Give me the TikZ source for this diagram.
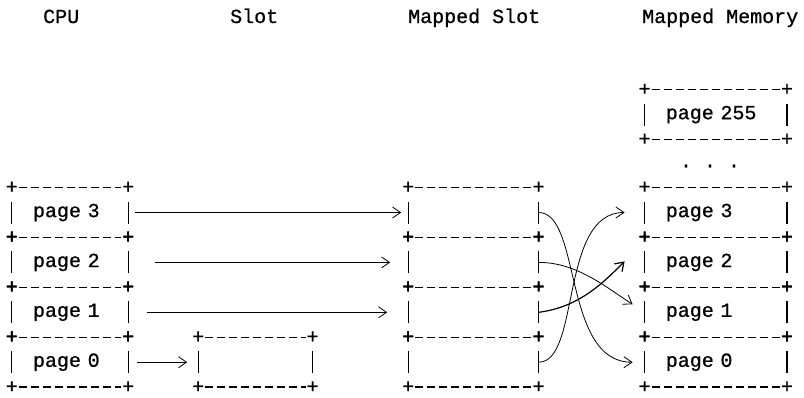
\documentclass[tikz,border=0pt]{standalone}
\usepackage{fontspec}
\newfontfamily\ttpage[FakeBold=0.8]{Liberation Mono}
\usetikzlibrary{arrows.meta,%
                positioning}

% ascii style frame round one cell
\newcommand{\asciiframe}[1]{%
  \draw[dashline] ([xshift=7pt]#1.north west) -- ([xshift=-7pt]#1.north east);
  \draw[dashline] ([xshift=7pt]#1.south west) -- ([xshift=-7pt]#1.south east);
  \draw[barline] ([yshift=-11pt]#1.west) -- ([yshift=11pt]#1.west);
  \draw[barline] ([yshift=-11pt]#1.east) -- ([yshift=11pt]#1.east);
  \foreach \corner in {north west,north east,south west,south east}
    \node[plus] at (#1.\corner) {+};
}

\begin{document}
\begin{tikzpicture}[x=1pt,y=1pt,>={Straight Barb[length=8pt,width=11pt]}]
  \tikzset{node distance = 0pt}
  \tikzset{cell/.style={text width=#1, inner xsep=21pt, inner ysep=0pt,
                        minimum height=49.5pt, align=left,
                        font=\ttpage\fontsize{20pt}{24pt}\selectfont}}
  \tikzset{title/.style={anchor=base west, inner sep=0pt,
                         font=\ttpage\fontsize{20pt}{24pt}\selectfont}}
  \tikzset{plus/.style={inner sep=0pt, font=\ttpage\fontsize{20pt}{24pt}\selectfont}}
  \tikzset{dashline/.style={line width=1.4pt, dash pattern=on 8pt off 4pt}}
  \tikzset{barline/.style={line width=1.2pt}}
  \tikzset{map/.style={->, line width=0.8pt}}
  \useasboundingbox (0,0) rectangle (804,-397);

  \node[title] (tcpu) at (43,-23) {CPU};
  \node[title] (tslot) at (230,-23) {Slot};
  \node[title] (tms) at (408,-23) {Mapped Slot};
  \node[title] (tmem) at (642,-23) {Mapped Memory};

  % CPU
  \node[cell=74pt] (cpu3) at (70,-212.5) {page 3};
  \node[cell=74pt, below=of cpu3] (cpu2) {page 2};
  \node[cell=74pt, below=of cpu2] (cpu1) {page 1};
  \node[cell=74pt, below=of cpu1] (cpu0) {page 0};

  % Slot
  \node[cell=72pt, right=70pt of cpu0] (slot0) {};

  % Mapped Slot
  \node[cell=88pt, right=280pt of cpu3] (ms3) {};
  \node[cell=88pt, below=of ms3] (ms2) {};
  \node[cell=88pt, below=of ms2] (ms1) {};
  \node[cell=88pt, below=of ms1] (ms0) {};

  % Mapped Memory
  \node[cell=100pt, right=106pt of ms3] (mem3) {page 3};
  \node[cell=100pt, below=of mem3] (mem2) {page 2};
  \node[cell=100pt, below=of mem2] (mem1) {page 1};
  \node[cell=100pt, below=of mem1] (mem0) {page 0};
  \node[cell=100pt, above=48pt of mem3] (mem255) {page 255};
  \node[plus] (gap) at (710,-166) {.\ .\ .};

  \foreach \c in {cpu3,cpu2,cpu1,cpu0,slot0,ms3,ms2,ms1,ms0,mem3,mem2,mem1,mem0,mem255}
    \asciiframe{\c};

  \draw[map, shorten <=7pt, shorten >=7pt] (cpu3) -- (ms3);
  \draw[map, shorten <=27pt, shorten >=18pt] (cpu2) -- (ms2);
  \draw[map, shorten <=19pt, shorten >=21pt] (cpu1) -- (ms1);
  \draw[map, shorten <=9pt, shorten >=11pt] (cpu0) -- (slot0);

  \draw[map] (ms3.east) .. controls +(43,0) and +(-70,0) .. ([xshift=-12pt]mem0.west);
  \draw[map] (ms2.east) .. controls +(38,0) and +(-28,18) .. ([xshift=-12pt,yshift=8pt]mem1.west);
  \draw[map, line width=1.2pt] (ms1.east) .. controls +(40,5) and +(-22,-22) .. ([xshift=-20pt,yshift=1pt]mem2.west);
  \draw[map] (ms0.east) .. controls +(42,0) and +(-65,0) .. ([xshift=-20pt]mem3.west);
\end{tikzpicture}
\end{document}
